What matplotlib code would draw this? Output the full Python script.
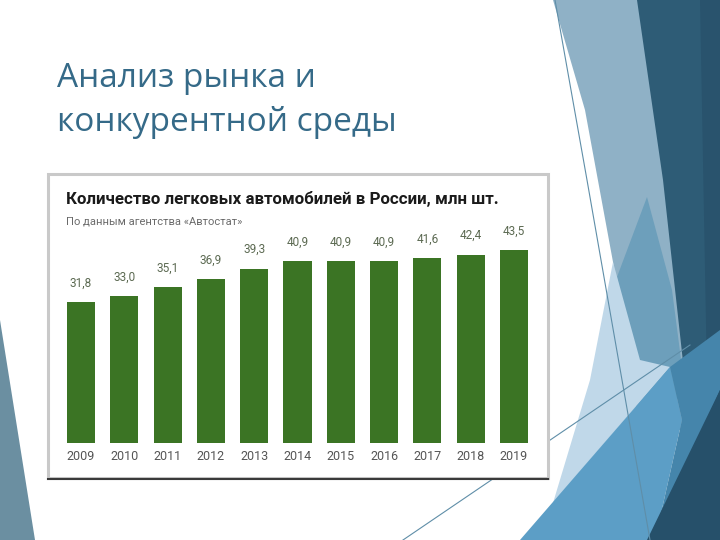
import numpy as np
import matplotlib
matplotlib.use('Agg')
import matplotlib.pyplot as plt
from matplotlib.patches import Polygon, Rectangle

# данные графика
years = ['2009', '2010', '2011', '2012', '2013', '2014', '2015', '2016', '2017', '2018', '2019']
cars = [31.8, 33.0, 35.1, 36.9, 39.3, 40.9, 40.9, 40.9, 41.6, 42.4, 43.5]

slide_title = ['Анализ рынка и', 'конкурентной среды']
chart_title = 'Количество легковых автомобилей в России, млн шт.'
chart_sub = 'По данным агентства «Автостат»'

W, H = 720, 540
fig = plt.figure(figsize=(7.2, 5.4), dpi=100)

# фон слайда в пикселях
bg = fig.add_axes([0, 0, 1, 1])
bg.set_xlim(0, W)
bg.set_ylim(H, 0)
bg.axis('off')

shapes = [
    ([(0, 320), (35, 540), (0, 540)], '#6b8fa1'),
    ([(553, 0), (700, 0), (700, 430), (640, 430), (613, 262), (585, 110)], '#8fb1c6'),
    ([(637, 0), (720, 0), (720, 540), (647, 540), (690, 450), (685, 380), (663, 180)], '#2e5c76'),
    ([(700, 0), (720, 0), (720, 540), (710, 540)], '#29536d'),
    ([(647, 197), (672, 290), (685, 390), (650, 430), (617, 277)], '#6d9fbb'),
    ([(613, 262), (640, 360), (670, 367), (553, 503), (590, 380)], '#c0d8e9'),
    ([(520, 540), (670, 367), (682, 420), (655, 540)], '#5c9ec6'),
    ([(670, 367), (720, 330), (720, 390), (655, 540), (682, 420)], '#4585ab'),
    ([(647, 540), (720, 390), (720, 540)], '#26506a'),
]
for pts, col in shapes:
    bg.add_patch(Polygon(pts, closed=True, facecolor=col, edgecolor='none', zorder=1))

bg.plot([555, 587, 622, 650], [0, 180, 380, 540], color='#5f8ea8', lw=0.8, zorder=2)
bg.plot([403, 690], [540, 345], color='#5f8ea8', lw=0.8, zorder=2)

# заголовок слайда
bg.text(57, 87, slide_title[0], fontsize=24, color='#356a88', family='Open Sans', va='baseline')
bg.text(57, 131, slide_title[1], fontsize=24, color='#356a88', family='Open Sans', va='baseline')

# рамка картинки с графиком
bg.add_patch(Rectangle((48, 174), 500, 304, facecolor='white', edgecolor='#c9c9c9', lw=2.2, zorder=3))
bg.plot([48, 548], [479, 479], color='#3a3a3a', lw=1.5, zorder=4)

bg.text(66, 204, chart_title, fontsize=12.2, fontweight='bold', color='#1a1a1a',
        family='Roboto', va='baseline', zorder=5)
bg.text(66, 225, chart_sub, fontsize=8, color='#6a6a6a', family='Roboto', va='baseline', zorder=5)

# столбцы
step = 43.3
left_px = 81 - step / 2
ax = fig.add_axes([left_px / W, (H - 443) / H, 11 * step / W, 222 / H])
ax.set_zorder(5)
ax.patch.set_alpha(0)
x = np.arange(len(years))
ax.bar(x, cars, width=0.65, color='#3b7424')
for xi, v in zip(x, cars):
    ax.annotate(f'{v:.1f}'.replace('.', ','), (xi, v), xytext=(0, 9), textcoords='offset points',
                ha='center', va='bottom', fontsize=8.5, color='#5c6a52', family='Roboto')
ax.set_xlim(-0.5, len(years) - 0.5)
ax.set_ylim(0, 50)
ax.set_xticks(x)
ax.set_xticklabels(years, fontsize=9, color='#555555', family='Roboto')
ax.tick_params(axis='x', length=0, pad=5)
ax.set_yticks([])
for s in ax.spines.values():
    s.set_visible(False)

fig.savefig('out.png', dpi=100)
